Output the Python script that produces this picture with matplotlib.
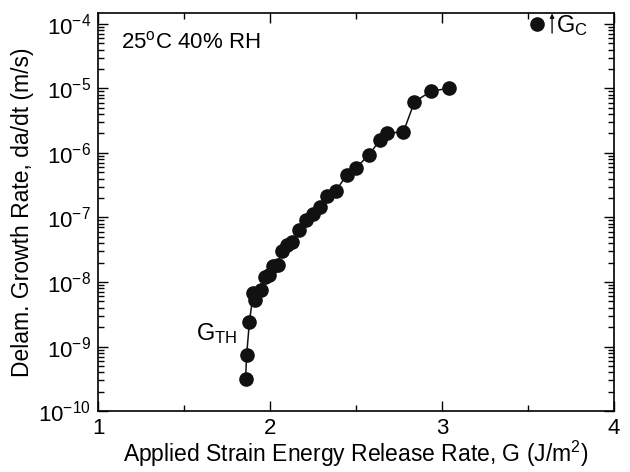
'''Delamination growth rate vs applied G'''

import matplotlib
matplotlib.use('Agg')
import matplotlib.pyplot as plt
import matplotlib.ticker as mticker

plt.rcParams['font.family'] = ['Liberation Sans', 'DejaVu Sans']
plt.rcParams['mathtext.fontset'] = 'custom'
plt.rcParams['mathtext.rm'] = 'Liberation Sans'
plt.rcParams['mathtext.it'] = 'Liberation Sans'
plt.rcParams['mathtext.default'] = 'regular'

# data
g = [1.858, 1.864, 1.88, 1.903, 1.913, 1.95, 1.97, 1.996, 2.016, 2.045,
     2.068, 2.097, 2.126, 2.169, 2.21, 2.25, 2.29, 2.333, 2.384, 2.446,
     2.5, 2.576, 2.64, 2.678, 2.775, 2.84, 2.936, 3.043]
rate = [3.2e-10, 7.3e-10, 2.4e-9, 6.8e-9, 5.3e-9, 7.6e-9, 1.19e-8, 1.28e-8, 1.76e-8, 1.86e-8,
        3.0e-8, 3.7e-8, 4.1e-8, 6.4e-8, 9.1e-8, 1.15e-7, 1.47e-7, 2.18e-7, 2.6e-7, 4.6e-7,
        5.9e-7, 9.3e-7, 1.61e-6, 2.04e-6, 2.1e-6, 6.2e-6, 9.0e-6, 1.01e-5]
gc = [3.554]
gc_rate = [1.0e-4]

fig = plt.figure(figsize=(6.3, 4.72), dpi=100)
ax = fig.add_axes([0.1556, 0.129, 0.819, 0.843])

ax.plot(g, rate, color='#111111', lw=1.1, marker='o', ms=9.5, mfc='#111111', mec='#111111')
ax.plot(gc, gc_rate, ls='none', marker='o', ms=9.5, color='#111111')

ax.set_yscale('log')
ax.set_xlim(1, 4)
ax.set_ylim(1e-10, 1.46e-4)

ax.xaxis.set_major_locator(mticker.MultipleLocator(1))
ax.xaxis.set_minor_locator(mticker.MultipleLocator(0.5))
ax.yaxis.set_major_locator(mticker.LogLocator(base=10, numticks=20))
ax.yaxis.set_minor_locator(mticker.LogLocator(base=10, subs=range(2, 10), numticks=20))
ax.yaxis.set_minor_formatter(mticker.NullFormatter())

ax.tick_params(which='both', direction='in', top=True, right=True, labelsize=16, pad=5)
ax.tick_params(which='major', length=7, width=1)
ax.tick_params(which='minor', length=4, width=1)
for s in ax.spines.values():
    s.set_linewidth(1.2)

ax.set_xlabel('Applied Strain Energy Release Rate, G (J/m$^2$)', fontsize=16.5, labelpad=0)
ax.set_ylabel('Delam. Growth Rate, da/dt (m/s)', fontsize=16.5, labelpad=3)

ax.text(0.045, 0.955, '25$^{o}$C 40% RH', transform=ax.transAxes, fontsize=16, va='top')
ax.text(1.81, 1.6e-9, 'G$_{TH}$', fontsize=17, ha='right', va='center')
ax.annotate('', xy=(3.64, 1.45e-4), xytext=(3.64, 0.72e-4), annotation_clip=False,
            arrowprops=dict(arrowstyle='-|>', color='#111111', lw=1, mutation_scale=6,
                            shrinkA=0, shrinkB=0))
ax.text(3.665, 0.95e-4, 'G$_C$', fontsize=17, ha='left', va='center')

fig.savefig('out.png', dpi=100)
